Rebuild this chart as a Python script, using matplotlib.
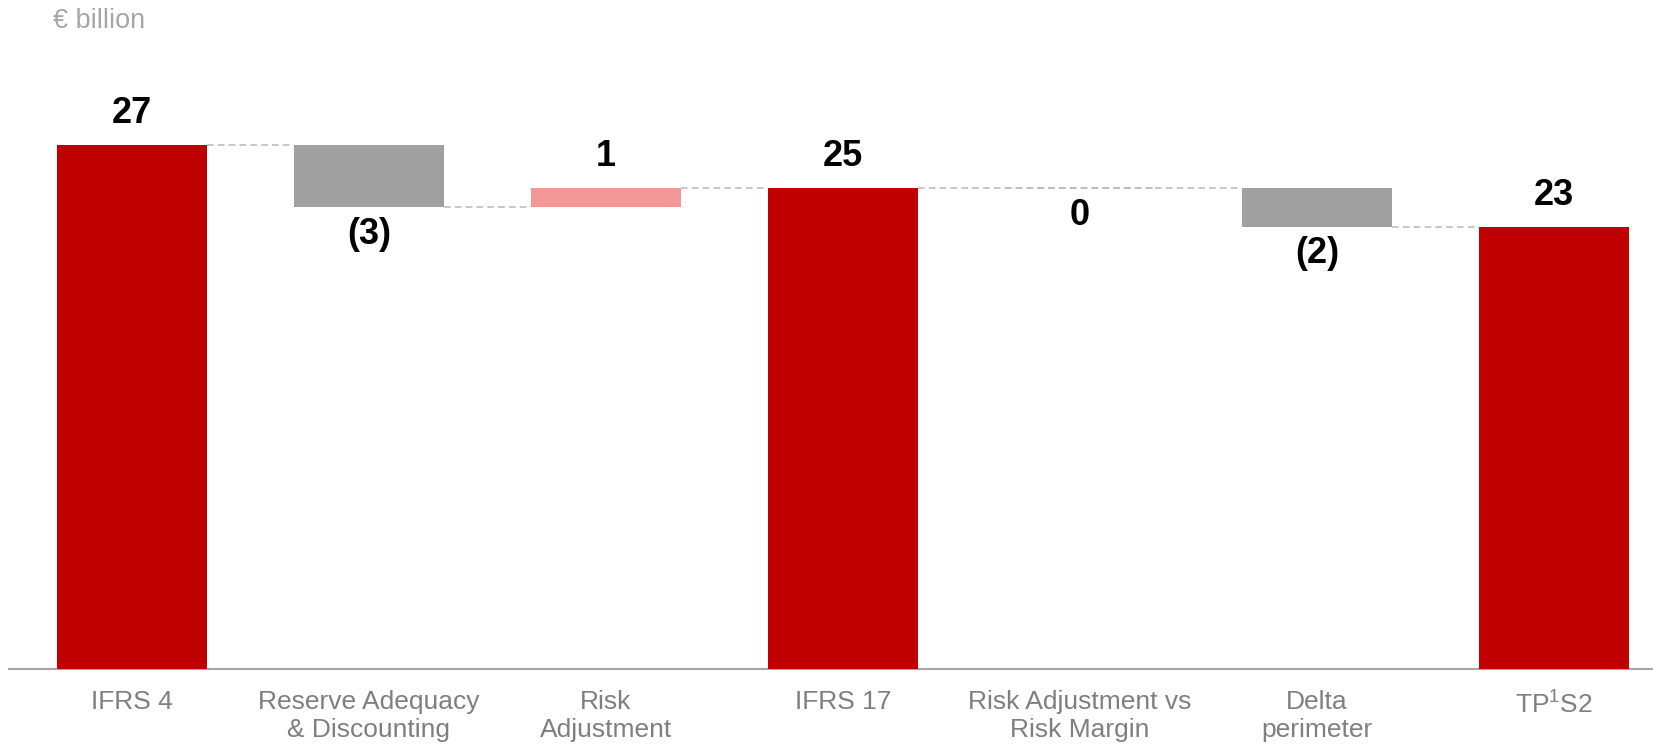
#Plotting Libraries
import matplotlib
matplotlib.use("Agg")
import matplotlib.pyplot as plt
import numpy as np

plt.rcParams['font.family'] = ['Liberation Sans', 'DejaVu Sans']
plt.rcParams['mathtext.fontset'] = 'custom'
plt.rcParams['mathtext.rm'] = 'Liberation Sans'

#Chart data (EUR billion)
categories = ["IFRS 4", "Reserve Adequacy\n& Discounting", "Risk\nAdjustment", "IFRS 17",
              "Risk Adjustment vs\nRisk Margin", "Delta\nperimeter", r"TP$^{1}$S2"]
values = [27.0, -3.2, 1.0, 24.8, 0.0, -2.0, 22.8]
is_total = [True, False, False, True, False, False, True]

#Colors
RED = "#C00000"
GREY = "#A0A0A0"
PINK = "#F39696"
LINE = "#BDBDBD"

#Waterfall bottoms/tops
bottoms = []
tops = []
level = 0.0
for v, tot in zip(values, is_total):
    if tot:
        bottoms.append(0.0)
        tops.append(v)
        level = v
    else:
        new = level + v
        bottoms.append(min(level, new))
        tops.append(max(level, new))
        level = new

x = np.arange(len(values))
width = 0.633

fig = plt.figure(figsize=(16.53, 7.48), dpi=100)
ax = fig.add_axes([9 / 1653, 79 / 748, 1 - 9 / 1653, 1 - 79 / 748])

colors = []
for v, tot in zip(values, is_total):
    if tot:
        colors.append(RED)
    elif v < 0:
        colors.append(GREY)
    else:
        colors.append(PINK)

heights = [t - b for t, b in zip(tops, bottoms)]
ax.bar(x, heights, width, bottom=bottoms, color=colors, zorder=3)

#Dashed connectors between bars
level = 0.0
for i in range(len(values) - 1):
    level = values[i] if is_total[i] else level + values[i]
    x0 = x[i] + width / 2
    x1 = x[i + 1] - width / 2
    if heights[i + 1] == 0:
        x1 = x[i + 1] + width / 2
    ax.plot([x0, x1], [level, level], color=LINE, lw=1.2, ls=(0, (4, 2.5)), zorder=2)
    if heights[i] == 0:
        ax.plot([x[i] - width / 2, x[i] + width / 2], [level, level], color=LINE, lw=1.2,
                ls=(0, (4, 2.5)), zorder=2)

#Value labels
for i, v in enumerate(values):
    if v < 0:
        txt = "({})".format(abs(int(round(v))))
    else:
        txt = "{}".format(int(round(v)))
    if is_total[i] or v > 0:
        ax.annotate(txt, (x[i], tops[i]), xytext=(0, 10), textcoords="offset points",
                    ha="center", va="bottom", fontsize=26, fontweight="bold", color="black")
    else:
        ax.annotate(txt, (x[i], bottoms[i]), xytext=(0, -7), textcoords="offset points",
                    ha="center", va="top", fontsize=26, fontweight="bold", color="black")

ax.set_xlim(-0.519, 6.418)
ax.set_ylim(0, 669 / 19.4)
ax.set_xticks(x)
ax.set_xticklabels(categories, fontsize=19, color="#7F7F7F", linespacing=1.2)
ax.tick_params(axis="x", length=0, pad=15)
ax.set_yticks([])
for s in ["top", "right", "left"]:
    ax.spines[s].set_visible(False)
ax.spines["bottom"].set_color("#A6A6A6")
ax.spines["bottom"].set_linewidth(1.5)

fig.text(53 / 1653, 1 - 8 / 748, "€ billion", fontsize=19.5, color="#A6A6A6", ha="left", va="top")

fig.savefig("out.png", dpi=100)
